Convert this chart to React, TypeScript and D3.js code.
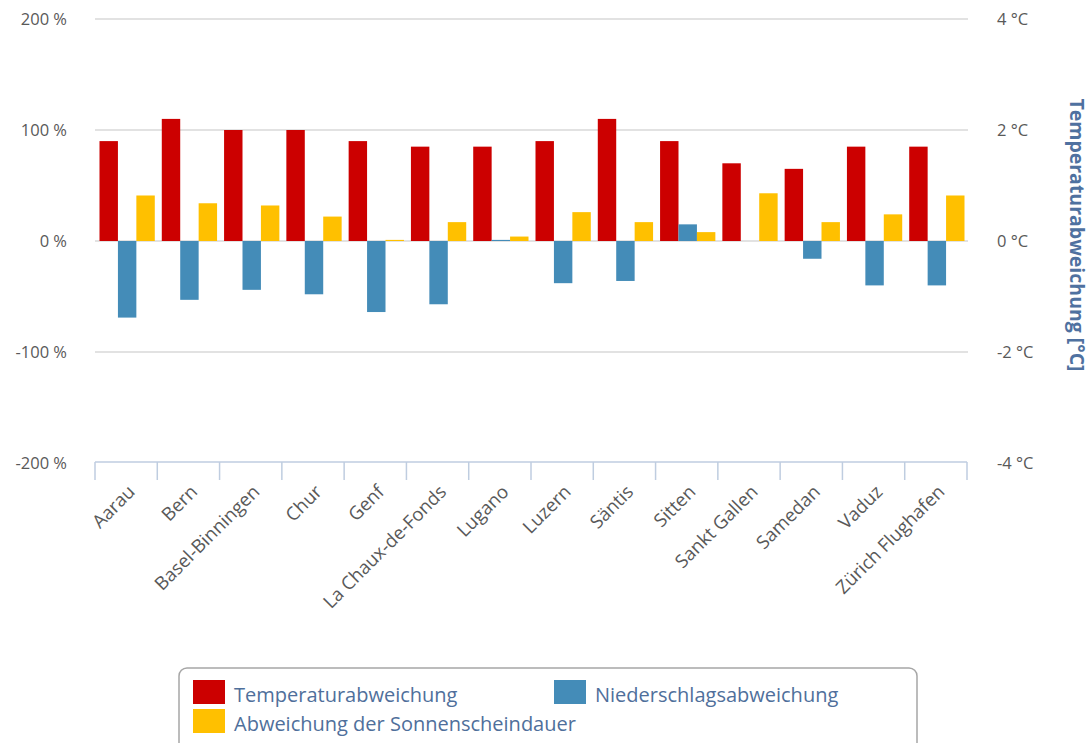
import * as d3 from 'd3';
import React, { useEffect, useRef } from 'react';

const stations = [
    'Aarau',
    'Bern',
    'Basel-Binningen',
    'Chur',
    'Genf',
    'La Chaux-de-Fonds',
    'Lugano',
    'Luzern',
    'Säntis',
    'Sitten',
    'Sankt Gallen',
    'Samedan',
    'Vaduz',
    'Zürich Flughafen',
];

// °C, right axis
const temperatur = [1.8, 2.2, 2.0, 2.0, 1.8, 1.7, 1.7, 1.8, 2.2, 1.8, 1.4, 1.3, 1.7, 1.7];
// %, left axis
const niederschlag = [-69, -53, -44, -48, -64, -57, 1, -38, -36, 15, 0, -16, -40, -40];
const sonnenschein = [41, 34, 32, 22, 1, 17, 4, 26, 17, 8, 43, 17, 24, 41];

const leftTicks = [-200, -100, 0, 100, 200];
const rightTicks = [-4, -2, 0, 2, 4];

const seriesKeys = ['temp', 'nieder', 'sonne'];
const seriesNames = [
    'Temperaturabweichung',
    'Niederschlagsabweichung',
    'Abweichung der Sonnenscheindauer',
];
const seriesColors = ['#cc0000', '#448cb8', '#ffc000'];

const W = 1090;
const H = 743;

export default function App() {
    const ref = useRef<SVGSVGElement | null>(null);

    useEffect(() => {
        const svg = d3.select(ref.current);
        svg.selectAll('*').remove();

        const left = 95;
        const right = 967;
        const top = 19;
        const bottom = 463;
        const font = "'Open Sans', sans-serif";

        const x = d3.scaleBand<string>().domain(stations).range([left, right]).padding(0);
        const xi = d3
            .scaleBand<string>()
            .domain(seriesKeys)
            .range([4.5, x.bandwidth() - 2.5])
            .padding(0);
        const yL = d3.scaleLinear().domain([-200, 200]).range([bottom, top]);
        const yR = d3.scaleLinear().domain([-4, 4]).range([bottom, top]);

        // gridlines
        svg.append('g')
            .selectAll('line')
            .data(leftTicks.filter((t) => t !== -200))
            .join('line')
            .attr('x1', left)
            .attr('x2', right + 1)
            .attr('y1', (d) => yL(d))
            .attr('y2', (d) => yL(d))
            .attr('stroke', '#d9d9d9')
            .attr('stroke-width', 1.5);

        // left labels
        svg.append('g')
            .selectAll('text')
            .data(leftTicks)
            .join('text')
            .attr('x', 67)
            .attr('y', (d) => yL(d) + 6)
            .attr('text-anchor', 'end')
            .style('font-family', font)
            .style('font-size', '16.5px')
            .attr('fill', '#595959')
            .text((d) => `${d} %`);

        // right labels
        svg.append('g')
            .selectAll('text')
            .data(rightTicks)
            .join('text')
            .attr('x', 997)
            .attr('y', (d) => yR(d) + 6)
            .attr('text-anchor', 'start')
            .style('font-family', font)
            .style('font-size', '16.5px')
            .attr('fill', '#595959')
            .text((d) => `${d} °C`);

        // right title
        svg.append('text')
            .attr('transform', `translate(1070, 235) rotate(90)`)
            .attr('text-anchor', 'middle')
            .style('font-family', font)
            .style('font-size', '19.5px')
            .style('font-weight', 'bold')
            .attr('fill', '#4f71a0')
            .text('Temperaturabweichung [°C]');

        // bars
        const groups = svg
            .append('g')
            .selectAll('g')
            .data(stations)
            .join('g')
            .attr('transform', (d) => `translate(${x(d)}, 0)`);

        groups.each(function (name, i) {
            const g = d3.select(this);
            const vals = [
                { key: 'temp', y: yR(temperatur[i]), y0: yR(0) },
                { key: 'nieder', y: yL(niederschlag[i]), y0: yL(0) },
                { key: 'sonne', y: yL(sonnenschein[i]), y0: yL(0) },
            ];
            g.selectAll('rect')
                .data(vals)
                .join('rect')
                .attr('x', (d) => xi(d.key)!)
                .attr('width', xi.bandwidth())
                .attr('y', (d) => Math.min(d.y, d.y0))
                .attr('height', (d) => Math.abs(d.y - d.y0))
                .attr('fill', (d) => seriesColors[seriesKeys.indexOf(d.key)]);
        });

        // x axis
        const axis = svg.append('g');
        axis.append('line')
            .attr('x1', left)
            .attr('x2', right)
            .attr('y1', bottom - 1)
            .attr('y2', bottom - 1)
            .attr('stroke', '#bfcde0')
            .attr('stroke-width', 1.5);
        axis.selectAll('.tick')
            .data([...stations.map((s) => x(s)!), right])
            .join('line')
            .attr('class', 'tick')
            .attr('x1', (d) => d)
            .attr('x2', (d) => d)
            .attr('y1', bottom - 1)
            .attr('y2', bottom + 17)
            .attr('stroke', '#bfcde0')
            .attr('stroke-width', 1.5);

        axis.selectAll('text')
            .data(stations)
            .join('text')
            .attr(
                'transform',
                (d) => `translate(${x(d)! + x.bandwidth() / 2 + 10}, ${bottom + 30}) rotate(-45)`
            )
            .attr('text-anchor', 'end')
            .style('font-family', font)
            .style('font-size', '18.5px')
            .attr('fill', '#595959')
            .text((d) => d);

        // legend
        const legend = svg.append('g');
        legend
            .append('rect')
            .attr('x', 179)
            .attr('y', 668)
            .attr('width', 738)
            .attr('height', 95)
            .attr('rx', 8)
            .attr('fill', 'white')
            .attr('stroke', '#a6a6a6')
            .attr('stroke-width', 1.5);

        const legendPos = [
            { x: 193, y: 680 },
            { x: 554, y: 680 },
            { x: 193, y: 709 },
        ];
        seriesNames.forEach((name, i) => {
            legend
                .append('rect')
                .attr('x', legendPos[i].x)
                .attr('y', legendPos[i].y)
                .attr('width', 32)
                .attr('height', 24)
                .attr('fill', seriesColors[i]);
            legend
                .append('text')
                .attr('x', legendPos[i].x + 41)
                .attr('y', legendPos[i].y + 22)
                .style('font-family', font)
                .style('font-size', '20px')
                .attr('fill', '#4f6f9b')
                .text(name);
        });
    }, []);

    return (
        <div style={{ position: 'absolute', left: 0, top: 0 }}>
            <svg ref={ref} width={W} height={H} style={{ display: 'block' }}></svg>
        </div>
    );
}
